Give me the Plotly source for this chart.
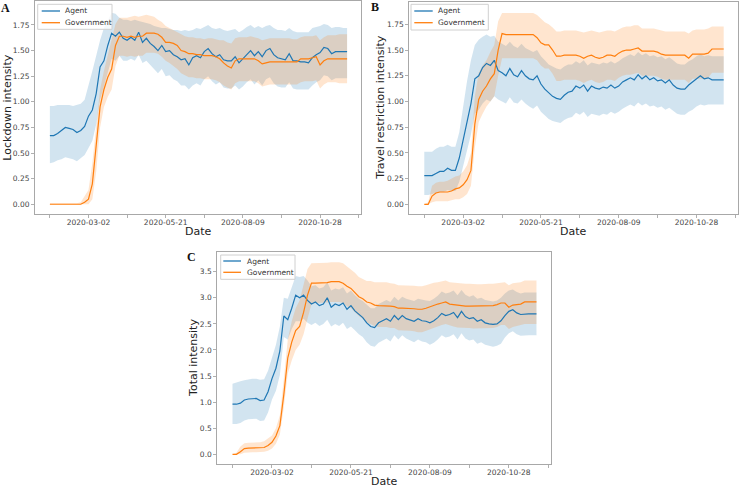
import pandas as pd
import plotly.graph_objects as go

# ---------------- data (sampled every 4 days, 2020-01-22 .. 2020-11-25) ----------------
dates = pd.date_range("2020-01-22", periods=78, freq="4D")

tick_dates = ["2020-01-22", "2020-03-02", "2020-04-11", "2020-05-21", "2020-06-30",
              "2020-08-09", "2020-09-18", "2020-10-28", "2020-12-07"]
tick_text = ["", "2020-03-02", "", "2020-05-21", "", "2020-08-09", "", "2020-10-28", ""]

# Panel A: Lockdown intensity
a_agent = [.67,.67,.69,.72,.75,.74,.73,.70,.72,.76,
           .86,.92,1.08,1.34,1.40,1.55,1.67,1.64,1.68,1.62,
           1.60,1.63,1.60,1.68,1.58,1.62,1.57,1.54,1.50,1.55,
           1.49,1.50,1.46,1.44,1.41,1.42,1.36,1.43,1.45,1.43,
           1.49,1.52,1.47,1.44,1.46,1.41,1.40,1.40,1.44,1.38,
           1.42,1.47,1.50,1.45,1.49,1.44,1.50,1.52,1.46,1.43,
           1.42,1.41,1.47,1.40,1.40,1.39,1.39,1.38,1.43,1.46,
           1.48,1.53,1.52,1.47,1.49,1.49,1.49,1.49]
a_agent_hi = [.96,.96,.97,.97,.97,.97,.96,.97,.98,1.02,
              1.15,1.30,1.45,1.60,1.72,1.80,1.87,1.86,1.82,1.80,
              1.80,1.79,1.80,1.79,1.78,1.77,1.76,1.74,1.73,1.72,
              1.72,1.71,1.70,1.70,1.69,1.70,1.69,1.70,1.72,1.71,
              1.73,1.75,1.72,1.71,1.72,1.70,1.69,1.70,1.71,1.68,
              1.70,1.73,1.75,1.72,1.74,1.72,1.74,1.75,1.72,1.70,
              1.70,1.69,1.72,1.69,1.68,1.68,1.68,1.68,1.72,1.73,
              1.74,1.76,1.75,1.72,1.73,1.73,1.72,1.72]
a_agent_lo = [.40,.41,.43,.44,.46,.45,.44,.42,.45,.48,
              .55,.62,.78,1.02,1.15,1.30,1.42,1.40,1.45,1.40,
              1.40,1.42,1.40,1.46,1.38,1.40,1.36,1.33,1.28,1.32,
              1.25,1.26,1.22,1.20,1.16,1.16,1.12,1.16,1.18,1.16,
              1.22,1.25,1.20,1.17,1.19,1.14,1.13,1.13,1.16,1.12,
              1.15,1.19,1.22,1.17,1.21,1.16,1.22,1.24,1.18,1.15,
              1.14,1.14,1.19,1.13,1.12,1.12,1.12,1.12,1.16,1.19,
              1.21,1.26,1.25,1.21,1.23,1.23,1.23,1.23]
a_gov = [0,0,0,0,0,0,0,0,0,.02,
         .05,.20,.55,.95,1.12,1.24,1.32,1.55,1.64,1.64,
         1.63,1.64,1.63,1.64,1.64,1.67,1.67,1.67,1.66,1.63,
         1.58,1.58,1.57,1.55,1.50,1.49,1.47,1.47,1.46,1.46,
         1.45,1.45,1.45,1.44,1.42,1.38,1.35,1.33,1.40,1.42,
         1.42,1.42,1.42,1.42,1.40,1.37,1.38,1.39,1.39,1.39,
         1.39,1.39,1.39,1.39,1.39,1.42,1.42,1.42,1.43,1.44,
         1.36,1.40,1.42,1.42,1.42,1.42,1.42,1.42]
a_gov_hi = [.01,.01,.01,.01,.01,.01,.01,.01,.02,.08,
            .14,.40,.78,1.12,1.30,1.45,1.58,1.76,1.82,1.82,
            1.82,1.83,1.84,1.83,1.84,1.85,1.84,1.83,1.80,1.78,
            1.74,1.72,1.70,1.68,1.66,1.64,1.63,1.63,1.62,1.62,
            1.61,1.62,1.62,1.61,1.60,1.60,1.58,1.57,1.62,1.63,
            1.63,1.63,1.64,1.63,1.62,1.60,1.61,1.62,1.62,1.62,
            1.62,1.62,1.62,1.61,1.61,1.63,1.64,1.64,1.64,1.65,
            1.60,1.63,1.65,1.65,1.65,1.66,1.66,1.66]
a_gov_lo = [0,0,0,0,0,0,0,0,0,0,
            0,.05,.32,.75,.95,1.05,1.12,1.35,1.45,1.45,
            1.44,1.45,1.44,1.45,1.45,1.48,1.48,1.48,1.47,1.44,
            1.40,1.38,1.35,1.32,1.28,1.26,1.24,1.24,1.23,1.23,
            1.22,1.22,1.22,1.21,1.19,1.16,1.14,1.12,1.18,1.20,
            1.20,1.20,1.20,1.20,1.18,1.15,1.16,1.17,1.17,1.17,
            1.17,1.17,1.17,1.17,1.17,1.19,1.20,1.20,1.20,1.21,
            1.13,1.17,1.19,1.19,1.19,1.18,1.18,1.18]

# Panel B: Travel restriction intensity
b_agent = [.28,.28,.28,.30,.32,.32,.35,.33,.33,.45,
           .62,.82,.98,1.22,1.25,1.33,1.37,1.35,1.40,1.30,
           1.28,1.25,1.32,1.26,1.24,1.30,1.25,1.22,1.21,1.25,
           1.17,1.12,1.08,1.05,1.03,1.02,1.06,1.09,1.10,1.15,
           1.13,1.16,1.10,1.15,1.13,1.12,1.14,1.13,1.16,1.13,
           1.15,1.19,1.21,1.23,1.21,1.26,1.22,1.25,1.21,1.23,
           1.20,1.21,1.18,1.21,1.16,1.13,1.12,1.12,1.16,1.19,
           1.22,1.25,1.22,1.23,1.21,1.21,1.21,1.21]
b_agent_hi = [.51,.51,.51,.54,.56,.56,.58,.56,.56,.70,
              .95,1.20,1.40,1.55,1.60,1.63,1.65,1.63,1.64,1.58,
              1.56,1.54,1.58,1.54,1.52,1.56,1.52,1.50,1.48,1.50,
              1.44,1.40,1.36,1.34,1.32,1.31,1.34,1.36,1.36,1.39,
              1.37,1.40,1.35,1.38,1.37,1.36,1.38,1.37,1.39,1.37,
              1.39,1.42,1.44,1.46,1.44,1.48,1.45,1.47,1.44,1.45,
              1.43,1.44,1.41,1.43,1.40,1.37,1.36,1.36,1.39,1.41,
              1.44,1.46,1.44,1.45,1.44,1.44,1.44,1.44]
b_agent_lo = [.09,.09,.10,.11,.12,.12,.14,.13,.13,.22,
              .38,.52,.68,.88,.92,.98,1.02,1.00,1.05,1.02,
              1.00,.98,1.04,.99,.98,1.02,.98,.95,.93,.96,
              .90,.86,.83,.81,.80,.79,.82,.84,.85,.89,
              .87,.90,.85,.88,.87,.86,.88,.87,.90,.88,
              .90,.93,.95,.97,.95,.99,.96,.98,.95,.96,
              .94,.95,.92,.94,.91,.88,.87,.87,.90,.92,
              .95,.97,.96,.97,.97,.97,.97,.97]
b_gov = [0,0,.08,.11,.12,.12,.12,.13,.15,.16,
         .19,.24,.33,.78,1.02,1.10,1.15,1.22,1.27,1.50,
         1.66,1.65,1.65,1.65,1.65,1.65,1.65,1.65,1.65,1.62,
         1.57,1.55,1.55,1.50,1.44,1.44,1.45,1.45,1.45,1.45,
         1.44,1.42,1.44,1.45,1.43,1.42,1.43,1.45,1.45,1.44,
         1.47,1.49,1.50,1.50,1.51,1.52,1.49,1.49,1.49,1.49,
         1.48,1.46,1.45,1.45,1.45,1.45,1.45,1.45,1.42,1.46,
         1.46,1.46,1.46,1.47,1.51,1.51,1.51,1.51]
b_gov_hi = [0,.02,.18,.21,.22,.22,.23,.25,.27,.28,
            .32,.38,.50,1.05,1.28,1.35,1.40,1.48,1.55,1.78,
            1.86,1.86,1.86,1.86,1.86,1.86,1.86,1.86,1.86,1.84,
            1.80,1.77,1.75,1.72,1.68,1.68,1.69,1.69,1.69,1.69,
            1.68,1.67,1.68,1.69,1.68,1.67,1.68,1.69,1.69,1.68,
            1.70,1.72,1.73,1.73,1.74,1.74,1.71,1.71,1.71,1.71,
            1.70,1.69,1.68,1.68,1.68,1.68,1.68,1.68,1.66,1.69,
            1.70,1.70,1.70,1.71,1.73,1.73,1.73,1.73]
b_gov_lo = [0,0,.02,.03,.03,.03,.03,.04,.05,.05,
            .07,.10,.18,.55,.80,.88,.95,1.00,1.05,1.25,
            1.42,1.42,1.42,1.42,1.42,1.42,1.42,1.42,1.42,1.40,
            1.35,1.32,1.32,1.27,1.20,1.20,1.21,1.21,1.21,1.21,
            1.20,1.18,1.20,1.21,1.19,1.18,1.19,1.21,1.21,1.20,
            1.23,1.25,1.26,1.26,1.27,1.28,1.25,1.25,1.25,1.25,
            1.24,1.22,1.21,1.21,1.21,1.21,1.21,1.21,1.18,1.22,
            1.22,1.22,1.22,1.23,1.28,1.28,1.28,1.28]

# Panel C: Total intensity
c_agent = [.96,.96,.98,1.04,1.06,1.07,1.07,1.03,1.04,1.20,
           1.45,1.65,1.98,2.65,2.58,2.80,3.05,3.00,3.05,2.95,
           2.88,2.92,2.85,2.88,3.00,2.82,2.88,2.85,2.90,2.78,
           2.85,2.75,2.68,2.62,2.52,2.45,2.43,2.52,2.56,2.60,
           2.55,2.66,2.58,2.66,2.60,2.58,2.55,2.60,2.56,2.55,
           2.52,2.56,2.62,2.70,2.66,2.68,2.72,2.62,2.74,2.64,
           2.60,2.62,2.55,2.58,2.52,2.50,2.49,2.50,2.56,2.66,
           2.74,2.77,2.71,2.68,2.69,2.69,2.69,2.69]
c_agent_hi = [1.35,1.38,1.40,1.42,1.44,1.45,1.45,1.43,1.44,1.60,
              1.85,2.10,2.45,3.00,2.98,3.20,3.42,3.40,3.42,3.33,
              3.22,3.24,3.18,3.20,3.30,3.14,3.18,3.16,3.20,3.08,
              3.14,3.05,2.98,2.94,2.86,2.80,2.80,2.88,2.92,2.96,
              2.92,3.02,2.95,3.02,2.98,2.96,2.94,2.98,2.96,2.95,
              2.94,2.98,3.04,3.12,3.08,3.10,3.14,3.05,3.15,3.06,
              3.02,3.05,2.98,3.00,2.96,2.94,2.93,2.95,3.00,3.08,
              3.14,3.16,3.11,3.08,3.10,3.10,3.10,3.10]
c_agent_lo = [.58,.58,.60,.65,.67,.68,.68,.64,.65,.80,
              1.05,1.22,1.52,2.25,2.20,2.40,2.55,2.55,2.60,2.52,
              2.48,2.52,2.46,2.50,2.58,2.45,2.50,2.46,2.52,2.40,
              2.45,2.38,2.30,2.25,2.15,2.08,2.06,2.14,2.18,2.22,
              2.16,2.28,2.20,2.28,2.22,2.18,2.15,2.20,2.16,2.15,
              2.10,2.14,2.20,2.28,2.24,2.26,2.30,2.20,2.32,2.22,
              2.18,2.20,2.12,2.15,2.10,2.08,2.06,2.08,2.12,2.24,
              2.32,2.36,2.30,2.27,2.28,2.28,2.28,2.28]
c_gov = [0,0,.05,.11,.12,.12,.12,.12,.13,.17,
         .23,.35,.55,1.15,1.85,2.15,2.37,2.45,2.72,3.05,
         3.28,3.28,3.28,3.28,3.29,3.31,3.31,3.31,3.28,3.22,
         3.18,3.10,3.02,2.98,2.92,2.90,2.86,2.85,2.85,2.85,
         2.84,2.83,2.80,2.80,2.80,2.80,2.79,2.78,2.78,2.80,
         2.83,2.86,2.88,2.90,2.92,2.88,2.87,2.85,2.85,2.84,
         2.84,2.84,2.84,2.84,2.85,2.85,2.85,2.87,2.90,2.90,
         2.82,2.86,2.87,2.88,2.92,2.92,2.92,2.92]
c_gov_hi = [0,.03,.15,.21,.22,.22,.22,.23,.25,.30,
            .36,.50,.75,1.45,2.20,2.55,2.80,2.95,3.25,3.55,
            3.66,3.66,3.66,3.66,3.67,3.68,3.68,3.68,3.66,3.60,
            3.55,3.48,3.40,3.36,3.32,3.32,3.30,3.30,3.30,3.30,
            3.28,3.27,3.24,3.24,3.24,3.24,3.23,3.22,3.22,3.24,
            3.27,3.29,3.30,3.32,3.33,3.30,3.29,3.28,3.28,3.27,
            3.27,3.26,3.26,3.26,3.27,3.27,3.27,3.28,3.30,3.30,
            3.24,3.28,3.29,3.30,3.33,3.33,3.33,3.33]
c_gov_lo = [0,0,0,.03,.04,.04,.04,.04,.05,.07,
            .11,.20,.38,.90,1.55,1.80,2.00,2.10,2.30,2.60,
            2.88,2.90,2.90,2.90,2.91,2.92,2.92,2.92,2.90,2.84,
            2.80,2.72,2.65,2.60,2.52,2.50,2.46,2.44,2.44,2.44,
            2.42,2.42,2.38,2.38,2.38,2.37,2.36,2.34,2.34,2.37,
            2.40,2.43,2.46,2.48,2.50,2.47,2.45,2.43,2.43,2.42,
            2.42,2.41,2.41,2.41,2.42,2.42,2.42,2.44,2.48,2.48,
            2.40,2.44,2.46,2.47,2.50,2.50,2.50,2.50]

series_names = ["Agent", "Government"]
y_titles = ["Lockdown intensity", "Travel restriction intensity", "Total intensity"]
panel_letters = ["A", "B", "C"]

# ---------------- styling / layout ----------------
W, H = 739, 487
BLUE, ORANGE = "#1f77b4", "#ff7f0e"
BLUE_F, ORANGE_F = "rgba(31,119,180,0.2)", "rgba(255,127,14,0.2)"
FONT = "DejaVu Sans"

def px(x):
    return x / W

def py(y):
    return 1 - y / H

# panel boxes in pixels: left, top, right, bottom
boxes = [(35, 1, 361, 214), (409.3, 1.7, 737.7, 214), (217.3, 252.3, 550.7, 464)]
yranges = [[-0.095, 1.984], [-0.094, 1.97], [-0.186, 3.872]]
ydticks = [0.25, 0.25, 0.5]
yfmts = [".2f", ".2f", ".1f"]
xrange_ = ["2020-01-06 14:00", "2020-12-09 10:00"]

panels = [
    (a_agent, a_agent_lo, a_agent_hi, a_gov, a_gov_lo, a_gov_hi),
    (b_agent, b_agent_lo, b_agent_hi, b_gov, b_gov_lo, b_gov_hi),
    (c_agent, c_agent_lo, c_agent_hi, c_gov, c_gov_lo, c_gov_hi),
]

fig = go.Figure()
for i, (ag, ag_lo, ag_hi, gv, gv_lo, gv_hi) in enumerate(panels):
    sfx = "" if i == 0 else str(i + 1)
    xa, ya = "x" + sfx, "y" + sfx
    common = dict(x=dates, xaxis=xa, yaxis=ya, showlegend=False, hoverinfo="skip")
    fig.add_trace(go.Scatter(y=ag_lo, mode="lines", line=dict(width=0, color=BLUE), **common))
    fig.add_trace(go.Scatter(y=ag_hi, mode="lines", line=dict(width=0, color=BLUE),
                             fill="tonexty", fillcolor=BLUE_F, **common))
    fig.add_trace(go.Scatter(y=gv_lo, mode="lines", line=dict(width=0, color=ORANGE), **common))
    fig.add_trace(go.Scatter(y=gv_hi, mode="lines", line=dict(width=0, color=ORANGE),
                             fill="tonexty", fillcolor=ORANGE_F, **common))
    fig.add_trace(go.Scatter(y=ag, mode="lines", name=series_names[0],
                             line=dict(width=1.2, color=BLUE), **common))
    fig.add_trace(go.Scatter(y=gv, mode="lines", name=series_names[1],
                             line=dict(width=1.2, color=ORANGE), **common))

layout = dict(
    template="none",
    width=W, height=H, margin=dict(l=0, r=0, t=0, b=0, autoexpand=False),
    paper_bgcolor="white", plot_bgcolor="white",
    font=dict(family=FONT, size=7.5, color="#444"),
    showlegend=False,
)
annotations = []
shapes = []
legend_pos = [
    # box (l,t,r,b), line x0,x1, text x, y agent, y gov
    ((37.7, 4.3, 112, 29.3), 41.7, 60, 62.7, 11, 22.7),
    ((411, 4.3, 488.3, 30), 414.3, 432.7, 436.2, 11, 22.7),
    ((220.7, 255, 295, 279.3), 223.3, 241, 244.5, 261, 272.3),
]
ytitle_x = [7.2, 381, 192.8]
date_pos = [(198, 232), (573.5, 232), (384, 481)]
letter_pos = [(5, 7.5), (375.3, 7), (191.7, 256.7)]

for i, (l, t, r, b) in enumerate(boxes):
    sfx = "" if i == 0 else str(i + 1)
    layout["xaxis" + sfx] = dict(
        domain=[px(l), px(r)], anchor="y" + sfx, range=xrange_, type="date",
        tickmode="array", tickvals=tick_dates, ticktext=tick_text,
        ticks="outside", ticklen=3, tickcolor="#b0b0b0", tickwidth=0.8,
        ticklabelstandoff=-2,
        showline=True, linecolor="#a8a8a8", linewidth=1, mirror=True,
        showgrid=False, zeroline=False, automargin=False,
        tickfont=dict(size=7.5, color="#444"),
    )
    layout["yaxis" + sfx] = dict(
        domain=[py(b), py(t)], anchor="x" + sfx, range=yranges[i],
        dtick=ydticks[i], tick0=0, tickformat=yfmts[i],
        ticks="outside", ticklen=3, tickcolor="#b0b0b0", tickwidth=0.8,
        showline=True, linecolor="#a8a8a8", linewidth=1, mirror=True,
        showgrid=False, zeroline=False, automargin=False,
        tickfont=dict(size=7.5, color="#444"),
    )
    # axis titles
    annotations.append(dict(text="Date", x=px(date_pos[i][0]), y=py(date_pos[i][1]),
                            xref="paper", yref="paper", showarrow=False,
                            xanchor="center", yanchor="middle",
                            font=dict(family=FONT, size=11, color="#222")))
    annotations.append(dict(text=y_titles[i], x=px(ytitle_x[i]), y=py((t + b) / 2),
                            xref="paper", yref="paper", showarrow=False, textangle=-90,
                            xanchor="center", yanchor="middle",
                            font=dict(family=FONT, size=11, color="#222")))
    annotations.append(dict(text="<b>%s</b>" % panel_letters[i],
                            x=px(letter_pos[i][0]), y=py(letter_pos[i][1]),
                            xref="paper", yref="paper", showarrow=False,
                            xanchor="center", yanchor="middle",
                            font=dict(family="Liberation Serif", size=12, color="#111")))
    # legend
    (bl, bt, br, bb), lx0, lx1, tx, ya_, yg_ = legend_pos[i]
    shapes.append(dict(type="rect", xref="paper", yref="paper",
                       x0=px(bl), x1=px(br), y0=py(bb), y1=py(bt),
                       line=dict(color="#d0d0d0", width=1),
                       fillcolor="rgba(255,255,255,0.8)", layer="above"))
    for yy, col, nm in [(ya_, BLUE, series_names[0]), (yg_, ORANGE, series_names[1])]:
        shapes.append(dict(type="line", xref="paper", yref="paper",
                           x0=px(lx0), x1=px(lx1), y0=py(yy), y1=py(yy),
                           line=dict(color=col, width=1.3), layer="above"))
        annotations.append(dict(text=nm, x=px(tx), y=py(yy), xref="paper", yref="paper",
                                showarrow=False, xanchor="left", yanchor="middle",
                                font=dict(family=FONT, size=7.5, color="#333")))

layout["annotations"] = annotations
layout["shapes"] = shapes
fig.update_layout(**layout)
fig.write_html("out.html", config={"displayModeBar": False},
               post_script="document.body.style.margin='0px';document.body.style.overflow='hidden';")
